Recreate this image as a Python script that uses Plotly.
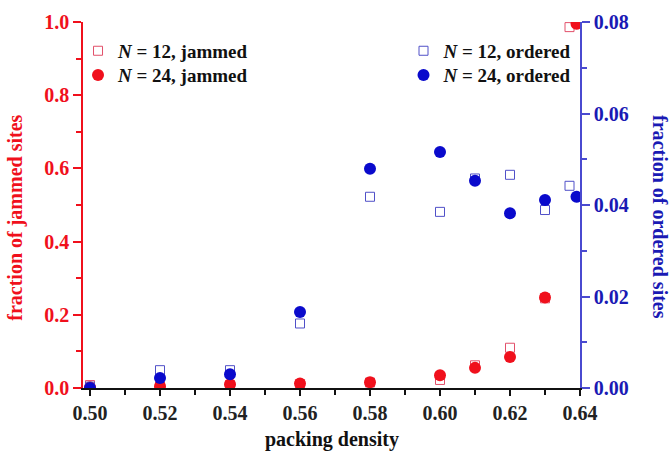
import plotly.graph_objects as go

# packing density
x12 = [0.50, 0.52, 0.54, 0.56, 0.58, 0.60, 0.61, 0.62, 0.63, 0.637]
x24 = [0.50, 0.52, 0.54, 0.56, 0.58, 0.60, 0.61, 0.62, 0.63, 0.639]

# fraction of jammed sites (left axis)
jam12 = [0.008, 0.005, 0.008, 0.010, 0.015, 0.022, 0.062, 0.110, 0.245, 0.986]
jam24 = [0.002, 0.005, 0.010, 0.012, 0.016, 0.035, 0.055, 0.085, 0.247, 0.995]

# fraction of ordered sites (right axis)
ord12 = [0.0003, 0.0039, 0.0039, 0.0141, 0.0418, 0.0385, 0.0458, 0.0466, 0.0389, 0.0442]
ord24 = [0.0000, 0.0022, 0.0030, 0.0166, 0.0479, 0.0516, 0.0453, 0.0382, 0.0411, 0.0418]

RED = "#f0101c"
BLUE = "#0a0acc"
SERIF = "Liberation Serif"

fig = go.Figure()
fig.add_trace(go.Scatter(x=x12, y=jam12, mode="markers", name="<i>N</i> = 12, jammed",
                         marker=dict(symbol="square-open", size=9, color="#e2506a", line=dict(width=1)),
                         legend="legend"))
fig.add_trace(go.Scatter(x=x24, y=jam24, mode="markers", name="<i>N</i> = 24, jammed",
                         marker=dict(symbol="circle", size=12, color=RED),
                         legend="legend2"))
fig.add_trace(go.Scatter(x=x12, y=ord12, mode="markers", name="<i>N</i> = 12, ordered", yaxis="y2",
                         marker=dict(symbol="square-open", size=9, color="#5050c8", line=dict(width=1)),
                         legend="legend3"))
fig.add_trace(go.Scatter(x=x24, y=ord24, mode="markers", name="<i>N</i> = 24, ordered", yaxis="y2",
                         marker=dict(symbol="circle", size=12, color=BLUE),
                         legend="legend4"))

tickfont = dict(family=SERIF, size=20, weight="bold")
legfont = dict(family=SERIF, size=19, weight="bold", color="#111111")


def leg(x, y, xanchor):
    return dict(x=x, y=y, xanchor=xanchor, yanchor="middle", bgcolor="rgba(0,0,0,0)",
                font=legfont, itemwidth=30)


fig.update_layout(
    width=670, height=453,
    margin=dict(l=83, r=90, t=22, b=65),
    plot_bgcolor="white", paper_bgcolor="white",
    showlegend=True,
    xaxis=dict(range=[0.498, 0.64], tickvals=[0.50, 0.52, 0.54, 0.56, 0.58, 0.60, 0.62, 0.64],
               ticktext=["0.50", "0.52", "0.54", "0.56", "0.58", "0.60", "0.62", "0.64"],
               ticks="outside", ticklen=6, tickwidth=1.5, tickcolor="#111",
               minor=dict(dtick=0.01, tick0=0.5, ticks="outside", ticklen=5, tickwidth=1.5, tickcolor="#111"),
               showline=True, linecolor="#111", linewidth=1.5, showgrid=False, zeroline=False,
               tickfont=dict(color="#222", **tickfont)),
    xaxis2=dict(range=[0.498, 0.64], overlaying="x", side="top", tick0=0.5, dtick=0.01,
                ticks="inside", ticklen=6, tickwidth=1.5, tickcolor="#111",
                showticklabels=False, showline=True, linecolor="#111", linewidth=1.5,
                showgrid=False, zeroline=False),
    yaxis=dict(range=[0, 1.0], tickvals=[0, 0.2, 0.4, 0.6, 0.8, 1.0],
               ticktext=["0.0", "0.2", "0.4", "0.6", "0.8", "1.0"],
               ticks="outside", ticklen=8, tickwidth=1.5, tickcolor=RED,
               minor=dict(dtick=0.1, ticks="outside", ticklen=5, tickwidth=1.5, tickcolor=RED),
               showline=True, linecolor=RED, linewidth=1.5, showgrid=False, zeroline=False,
               tickfont=dict(color=RED, **tickfont)),
    yaxis2=dict(range=[0, 0.08], overlaying="y", side="right",
                tickvals=[0, 0.02, 0.04, 0.06, 0.08],
                ticktext=["0.00", "0.02", "0.04", "0.06", "0.08"],
                ticks="outside", ticklen=8, tickwidth=1.5, tickcolor="#4a4ad0",
                minor=dict(dtick=0.01, ticks="outside", ticklen=5, tickwidth=1.5, tickcolor="#4a4ad0"),
                showline=True, linecolor="#4a4ad0", linewidth=1.5, showgrid=False, zeroline=False,
                tickfont=dict(color="#1a1ab4", **tickfont)),
    legend=leg(-0.01, 0.921, "left"),
    legend2=leg(-0.01, 0.855, "left"),
    legend3=leg(0.995, 0.921, "right"),
    legend4=leg(0.995, 0.855, "right"),
    annotations=[
        dict(text="fraction of jammed sites", x=-0.135, y=0.465, xref="paper", yref="paper",
             xanchor="center", yanchor="middle",
             textangle=-90, showarrow=False, font=dict(family=SERIF, size=20, weight="bold", color=RED)),
        dict(text="fraction of ordered sites", x=1.161, y=0.467, xref="paper", yref="paper",
             xanchor="center", yanchor="middle",
             textangle=90, showarrow=False, font=dict(family=SERIF, size=20, weight="bold", color="#1a1ab4")),
        dict(text="packing density", x=0.5, y=-0.142, xref="paper", yref="paper",
             xanchor="center", yanchor="middle",
             showarrow=False, font=dict(family=SERIF, size=20, weight="bold", color="#111")),
    ],
)

fig.write_html("out.html")
